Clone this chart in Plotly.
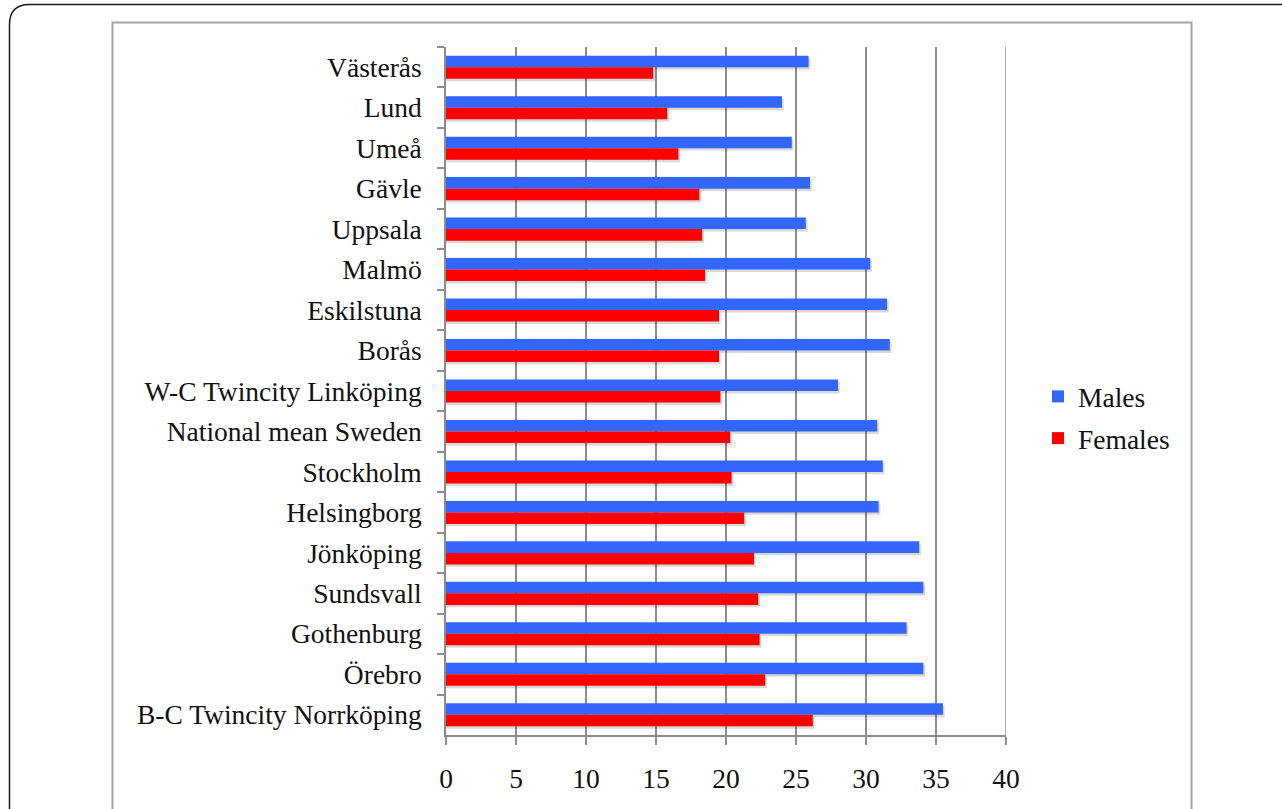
import plotly.graph_objects as go

# Categories listed top to bottom
cities = [
    "Västerås", "Lund", "Umeå", "Gävle", "Uppsala", "Malmö", "Eskilstuna",
    "Borås", "W-C Twincity Linköping", "National mean Sweden", "Stockholm",
    "Helsingborg", "Jönköping", "Sundsvall", "Gothenburg", "Örebro",
    "B-C Twincity Norrköping",
]
males = [25.9, 24.0, 24.7, 26.0, 25.7, 30.3, 31.5, 31.7, 28.0, 30.8, 31.2,
         30.9, 33.8, 34.1, 32.9, 34.1, 35.5]
females = [14.8, 15.8, 16.6, 18.1, 18.3, 18.5, 19.5, 19.5, 19.6, 20.3, 20.4,
           21.3, 22.0, 22.3, 22.4, 22.8, 26.2]
x_ticks = [0, 5, 10, 15, 20, 25, 30, 35, 40]

W, H = 1282, 809
ML, MR, MT, MB = 446, 276, 47, 74
PW, PH = W - ML - MR, H - MT - MB

BLUE = "rgb(51,102,255)"
RED = "rgb(255,0,0)"
GRID = "#8c8c8c"
FONT = "Liberation Serif, Times New Roman, serif"
FS = 27.5

BAR_W = 0.285


def px(xp):
    return (xp - ML) / PW


def py(yp):
    return 1 - (yp - MT) / PH


fig = go.Figure()

# soft drop shadows under the bars
for vals, off in ((males, -BAR_W), (females, 0.0)):
    fig.add_trace(go.Bar(
        y=cities, x=[v + 0.12 for v in vals], orientation="h",
        width=BAR_W, offset=off + 0.06,
        marker=dict(color="rgba(0,0,0,0.15)", line=dict(width=0)),
        showlegend=False, hoverinfo="skip",
    ))

fig.add_trace(go.Bar(
    y=cities, x=males, orientation="h", name="Males",
    width=BAR_W, offset=-BAR_W,
    marker=dict(color=BLUE, line=dict(width=0)),
    legendgroup="m",
))
fig.add_trace(go.Bar(
    y=cities, x=females, orientation="h", name="Females",
    width=BAR_W, offset=0.0,
    marker=dict(color=RED, line=dict(width=0)),
    legendgroup="f",
))

# gridline at the far end of the value axis
fig.add_shape(type="line", xref="x", yref="paper",
              x0=x_ticks[-1], x1=x_ticks[-1], y0=0, y1=1,
              line=dict(color=GRID, width=1.5), layer="below")

# outer rounded border and inner chart frame
r = 20
outer = (
    f"M {px(1400)},{py(4.5)} L {px(9.5 + r)},{py(4.5)} "
    f"Q {px(9.5)},{py(4.5)} {px(9.5)},{py(4.5 + r)} "
    f"L {px(9.5)},{py(900)}"
)
fig.add_shape(type="path", path=outer, xref="paper", yref="paper",
              line=dict(color="#1a1a1a", width=1.5), layer="below")
fig.add_shape(type="rect", xref="paper", yref="paper",
              x0=px(112.5), x1=px(1191.5), y0=py(900), y1=py(22.5),
              line=dict(color="#a3a3a3", width=2), layer="below")

fig.update_layout(
    width=W, height=H,
    margin=dict(l=ML, r=MR, t=MT, b=MB, pad=0),
    paper_bgcolor="white", plot_bgcolor="white",
    barmode="overlay",
    font=dict(family=FONT, size=FS, color="#111111"),
    legend=dict(
        x=px(1038), y=py(372), xanchor="left", yanchor="top",
        font=dict(family=FONT, size=FS, color="#111111"),
        bgcolor="rgba(0,0,0,0)", traceorder="grouped", tracegroupgap=3,
        itemwidth=30,
    ),
    xaxis=dict(
        range=[0, 40], tickvals=x_ticks, ticktext=[str(t) for t in x_ticks],
        showgrid=True, gridcolor=GRID, gridwidth=1.5,
        showline=True, linecolor=GRID, linewidth=1.5,
        ticks="outside", ticklen=8, tickcolor=GRID, tickwidth=1.5,
        ticklabelstandoff=10, zeroline=False, fixedrange=True,
        tickfont=dict(family=FONT, size=FS, color="#111111"),
    ),
    yaxis=dict(
        type="category", categoryorder="array", categoryarray=cities,
        autorange="reversed",
        showgrid=False, showline=True, linecolor=GRID, linewidth=1.5,
        ticks="outside", ticklen=7, tickcolor=GRID, tickwidth=1.5,
        tickson="boundaries", ticklabelstandoff=17, fixedrange=True,
        tickfont=dict(family=FONT, size=FS, color="#111111"),
    ),
)

fig.write_html("out.html")
